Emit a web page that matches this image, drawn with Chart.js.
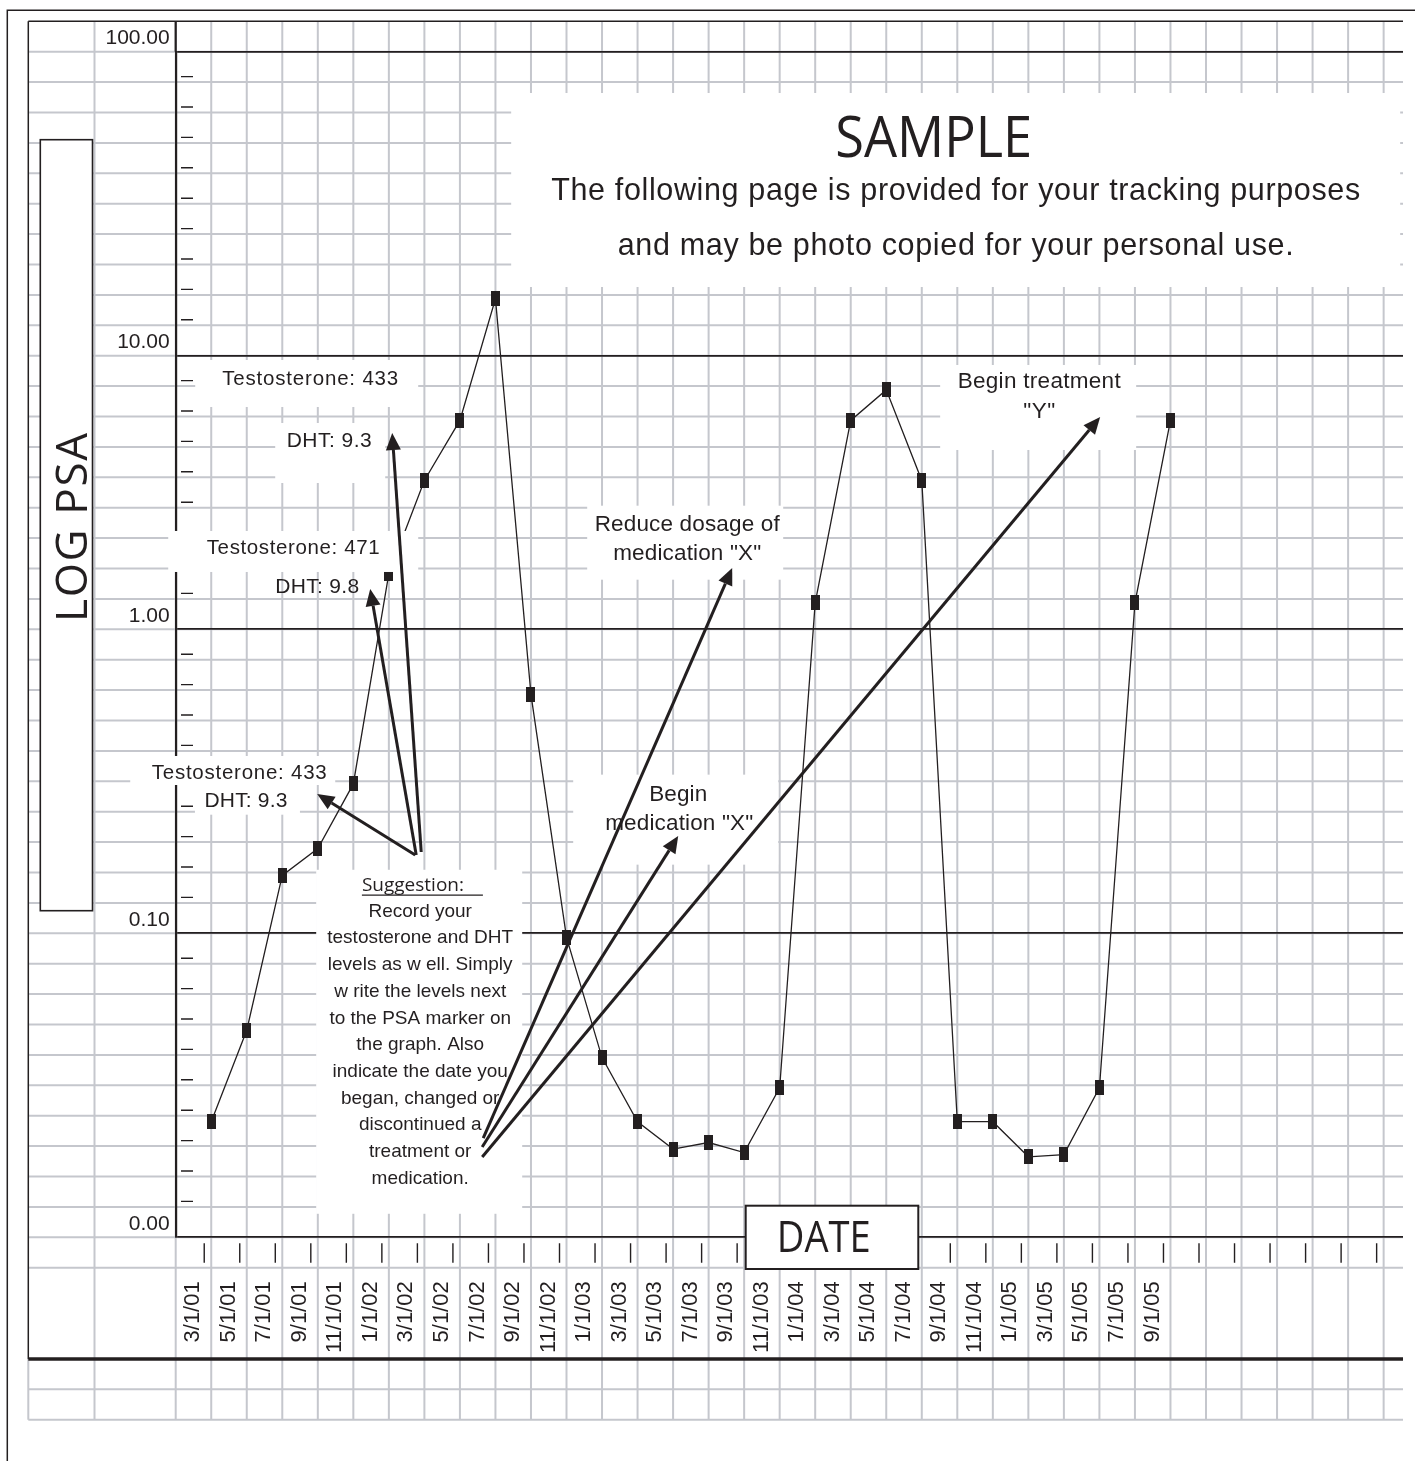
<!DOCTYPE html>
<html>
<head>
<meta charset="utf-8">
<script src="https://cdn.jsdelivr.net/npm/chart.js@4.4.0/dist/chart.umd.min.js"></script>
<style>
  html, body { margin: 0; padding: 0; background: #fff; }
  #wrap { width: 1415px; height: 1461px; position: relative; }
</style>
</head>
<body>
<div id="wrap"><canvas id="psa"></canvas></div>
<script>
// PSA readings, one every two months
const dates = ['3/1/01', '5/1/01', '7/1/01', '9/1/01', '11/1/01', '1/1/02', '3/1/02', '5/1/02', '7/1/02',
  '9/1/02', '11/1/02', '1/1/03', '3/1/03', '5/1/03', '7/1/03', '9/1/03', '11/1/03', '1/1/04', '3/1/04',
  '5/1/04', '7/1/04', '9/1/04', '11/1/04', '1/1/05', '3/1/05', '5/1/05', '7/1/05', '9/1/05'];
const psa = [0.024, 0.048, 0.155, 0.19, 0.31, 1.6, 3.5, 5.8, 15.4, 0.61, 0.097, 0.039, 0.024, 0.0195,
  0.0205, 0.019, 0.031, 1.25, 5.8, 7.5, 3.5, 0.024, 0.024, 0.0184, 0.0187, 0.031, 1.25, 5.8];
const yTickValues = [0.01, 0.1, 1, 10, 100];
const yTickLabels = ['0.00', '0.10', '1.00', '10.00', '100.00'];

const ink = '#231f20';
const paperGray = '#c5c7cd';
const arial = s => s + 'px "Liberation Sans", Arial, sans-serif';
const myriad = s => s + 'px "Open Sans", sans-serif';

// the printed paper puts the decades on uneven rows (counted from the bottom line)
const decadeRows = [0, 10, 20, 29, 39];

const LogScale = Chart.LogarithmicScale || Chart.registry.getScale('logarithmic');
class PaperLogScale extends LogScale {
  getPixelForValue(value) {
    if (value === undefined || value === 0) value = this.min;
    if (value === null || isNaN(value)) return NaN;
    const t = Math.log10(value) - Math.log10(this.min);
    const i = Math.max(0, Math.min(decadeRows.length - 2, Math.floor(t)));
    const r = decadeRows[i] + (t - i) * (decadeRows[i + 1] - decadeRows[i]);
    return this.getPixelForDecimal(r / decadeRows[decadeRows.length - 1]);
  }
  getValueForPixel(pixel) {
    const r = this.getDecimalForPixel(pixel) * decadeRows[decadeRows.length - 1];
    let i = 0;
    while (i < decadeRows.length - 2 && r > decadeRows[i + 1]) i++;
    const t = i + (r - decadeRows[i]) / (decadeRows[i + 1] - decadeRows[i]);
    return this.min * Math.pow(10, t);
  }
}
PaperLogScale.id = 'paperLog';
PaperLogScale.defaults = LogScale.defaults;
Chart.register(PaperLogScale);

// notes: anchor in data units (x = reading index, y = PSA), box edges in px around it
const body = ['Record your', 'testosterone and DHT', 'levels as w ell. Simply', 'w rite the levels next',
  'to the PSA marker on', 'the graph. Also', 'indicate the date you', 'began, changed or',
  'discontinued a', 'treatment or', 'medication.'];
const notes = [
  { x: 20.954, y: 32.52, box: [444.5, 107, 444.5, 87], lines: [
    { t: 'SAMPLE', dx: -22, dy: -42.7, font: myriad(56), fit: 197 },
    { t: 'The following page is provided for your tracking purposes', font: arial(30.5), fit: 809 },
    { t: 'and may be photo copied for your personal use.', dy: 55, font: arial(30.5), fit: 676 }] },
  { x: 2.786, y: 7.816, box: [115, 25, 108, 22], lines: [{ t: 'Testosterone: 433', font: arial(20.5), fit: 176 }] },
  { x: 3.321, y: 4.638, box: [54, 24, 56, 36], lines: [{ t: 'DHT: 9.3', font: arial(21), fit: 85 }] },
  { x: 2.308, y: 1.885, box: [125, 23, 125, 18], lines: [{ t: 'Testosterone: 471', font: arial(20.5), fit: 173 }] },
  { x: 2.983, y: 1.357, lines: [{ t: 'DHT: 9.8', font: arial(21), fit: 84 }] },
  { x: 0.788, y: 0.3218, box: [109, 23, 96, 6], lines: [{ t: 'Testosterone: 433', font: arial(20.5), fit: 175 }] },
  { x: 0.977, y: 0.2609, box: [51, 22, 54, 8], lines: [{ t: 'DHT: 9.3', font: arial(21), fit: 83 }] },
  { x: 13.397, y: 2.293, box: [100, 25, 96, 49], lines: [
    { t: 'Reduce dosage of', font: arial(22.5), fit: 185 },
    { t: 'medication "X"', dy: 29.3, font: arial(22.5), fit: 148 }] },
  { x: 13.144, y: 0.2731, box: [105, 26, 100, 64], lines: [
    { t: 'Begin', font: arial(22.5), fit: 58 },
    { t: 'medication "X"', dx: 1, dy: 29.3, font: arial(22.5), fit: 148 }] },
  { x: 23.304, y: 7.621, box: [99, 23, 97, 62], lines: [
    { t: 'Begin treatment', font: arial(22.5), fit: 163 },
    { t: '"Y"', dy: 30.3, font: arial(22.5), fit: 32 }] },
  { x: 5.882, y: 0.138, box: [104, 21, 102, 323], lines: [
    { t: 'Suggestion:', dx: -58.3, align: 'left', font: myriad(19), underline: 121 }]
    .concat(body.map((t, i) => ({ t, dy: 26 + 26.7 * i, font: arial(19) }))) }
];
const arrows = [
  { from: [5.911, 0.1851], to: [5.094, 5.217] },
  { from: [5.770, 0.1809], to: [4.475, 1.404] },
  { from: [5.742, 0.1809], to: [2.983, 0.2872] },
  { from: [7.656, 0.02121], to: [14.664, 1.675] },
  { from: [7.627, 0.01982], to: [13.144, 0.2090] },
  { from: [7.627, 0.01837], to: [25.021, 5.970] }
];

function fitText(ctx, text, x, y, width) {
  const w = ctx.measureText(text).width;
  ctx.save();
  if (w < width && 'letterSpacing' in ctx) {
    const ls = (width - w) / (text.length - 1);
    ctx.letterSpacing = ls + 'px';
    ctx.fillText(text, x + ls / 2, y);
  } else {
    ctx.translate(x, y);
    ctx.scale(width / w, 1);
    ctx.fillText(text, 0, 0);
  }
  ctx.restore();
}

function drawArrow(ctx, x1, y1, x2, y2) {
  const a = Math.atan2(y2 - y1, x2 - x1), L = 17, W = 7.5;
  const bx = x2 - L * Math.cos(a), by = y2 - L * Math.sin(a);
  ctx.lineWidth = 3;
  ctx.beginPath();
  ctx.moveTo(x1, y1);
  ctx.lineTo(bx, by);
  ctx.stroke();
  ctx.beginPath();
  ctx.moveTo(x2, y2);
  ctx.lineTo(bx + W * Math.sin(a), by - W * Math.cos(a));
  ctx.lineTo(bx - W * Math.sin(a), by + W * Math.cos(a));
  ctx.closePath();
  ctx.fill();
}

// graph paper under the chart
const paperPlugin = {
  id: 'paper',
  beforeDraw(chart) {
    const { ctx, chartArea: a, scales: { x } } = chart;
    const rowH = (a.bottom - a.top) / decadeRows[decadeRows.length - 1];
    const rowY = r => a.top + r * rowH;
    const left = 28.3, right = a.right, top = rowY(-1), bottom = rowY(45);
    const cols = [94.5];
    for (let k = -1; k <= 33; k++) cols.push(x.getPixelForValue(k));

    ctx.save();
    ctx.fillStyle = '#fff';
    ctx.fillRect(0, 0, chart.width, chart.height);

    ctx.strokeStyle = paperGray;
    ctx.lineWidth = 2;
    ctx.beginPath();
    for (let r = 0; r <= 45; r++) {
      if (r === 41 || r === 42) continue;
      ctx.moveTo(left, rowY(r));
      ctx.lineTo(right, rowY(r));
    }
    cols.forEach(px => { ctx.moveTo(px, top); ctx.lineTo(px, bottom); });
    ctx.moveTo(left, rowY(43));
    ctx.lineTo(left, bottom);
    ctx.stroke();

    ctx.strokeStyle = ink;
    ctx.lineWidth = 1.5;
    ctx.beginPath();
    ctx.moveTo(7.3, chart.height);
    ctx.lineTo(7.3, 10.3);
    ctx.lineTo(chart.width, 10.3);
    ctx.moveTo(left, top);
    ctx.lineTo(right, top);
    ctx.moveTo(left, top);
    ctx.lineTo(left, rowY(43));
    ctx.stroke();

    ctx.lineWidth = 2.2;
    ctx.beginPath();
    ctx.moveTo(a.left, top);
    ctx.lineTo(a.left, a.top);
    ctx.stroke();

    ctx.lineWidth = 3.5;
    ctx.beginPath();
    ctx.moveTo(left, rowY(43));
    ctx.lineTo(right, rowY(43));
    ctx.stroke();

    // little dashes on the unlabeled rows and bars under each month column
    const topRows = decadeRows.map(r => decadeRows[decadeRows.length - 1] - r);
    ctx.lineWidth = 1.4;
    ctx.beginPath();
    for (let r = 1; r < 39; r++) {
      if (topRows.includes(r)) continue;
      ctx.moveTo(181, rowY(r) - 5.5);
      ctx.lineTo(193, rowY(r) - 5.5);
    }
    for (let k = 0; k <= 33; k++) {
      const px = x.getPixelForValue(k) - 7;
      ctx.moveTo(px, rowY(39) + 6);
      ctx.lineTo(px, rowY(40) - 5);
    }
    ctx.stroke();
    ctx.restore();
  }
};

const notesPlugin = {
  id: 'notes',
  afterDatasetsDraw(chart) {
    const { ctx, scales: { x, y } } = chart;
    ctx.save();
    ctx.fillStyle = ink;
    ctx.strokeStyle = ink;
    ctx.textBaseline = 'alphabetic';
    notes.forEach(n => {
      const px = x.getPixelForValue(n.x), py = y.getPixelForValue(n.y);
      if (n.box) {
        ctx.fillStyle = '#fff';
        ctx.fillRect(px - n.box[0], py - n.box[1], n.box[0] + n.box[2], n.box[1] + n.box[3]);
        ctx.fillStyle = ink;
      }
      n.lines.forEach(l => {
        const tx = px + (l.dx || 0), ty = py + (l.dy || 0);
        ctx.font = l.font;
        ctx.textAlign = l.align || 'center';
        if (l.fit) fitText(ctx, l.t, tx, ty, l.fit);
        else ctx.fillText(l.t, tx, ty);
        if (l.underline) {
          ctx.lineWidth = 1.3;
          ctx.beginPath();
          ctx.moveTo(tx, ty + 4.3);
          ctx.lineTo(tx + l.underline, ty + 4.3);
          ctx.stroke();
        }
      });
    });
    arrows.forEach(ar => {
      drawArrow(ctx, x.getPixelForValue(ar.from[0]), y.getPixelForValue(ar.from[1]),
        x.getPixelForValue(ar.to[0]), y.getPixelForValue(ar.to[1]));
    });

    // axis titles in their boxes
    ctx.lineWidth = 1.6;
    ctx.fillStyle = '#fff';
    ctx.fillRect(40.3, 139.7, 52.2, 771);
    ctx.strokeRect(40.3, 139.7, 52.2, 771);
    ctx.fillRect(745.7, 1205.7, 172.6, 63.3);
    ctx.lineWidth = 2;
    ctx.strokeRect(745.7, 1205.7, 172.6, 63.3);
    ctx.fillStyle = ink;
    ctx.textAlign = 'center';
    ctx.font = myriad(43);
    fitText(ctx, 'DATE', 823.7, 1251.7, 94);
    ctx.translate(87, 527.5);
    ctx.rotate(-Math.PI / 2);
    ctx.font = myriad(44);
    fitText(ctx, 'LOG PSA', 0, 0, 189);
    ctx.restore();
  }
};

const marker = document.createElement('canvas');
marker.width = 9;
marker.height = 15;
const mctx = marker.getContext('2d');
mctx.fillStyle = ink;
mctx.fillRect(0, 0, 9, 15);

const family = '"Liberation Sans", Arial, sans-serif';

new Chart(document.getElementById('psa'), {
  type: 'line',
  data: {
    datasets: [{
      data: psa.map((v, i) => ({ x: i, y: v })),
      borderColor: ink,
      borderWidth: 1.3,
      pointStyle: marker,
      pointRadius: 5,
      tension: 0,
      fill: false
    }]
  },
  options: {
    responsive: true,
    maintainAspectRatio: false,
    animation: false,
    devicePixelRatio: 1,
    events: [],
    layout: { padding: { left: 0, top: 51.7, right: 12, bottom: 0 } },
    plugins: { legend: { display: false }, tooltip: { enabled: false } },
    scales: {
      x: {
        type: 'linear',
        min: -1,
        max: 33.545,
        afterFit: s => { s.height = 223.7; },
        afterBuildTicks: s => { s.ticks = dates.map((d, i) => ({ value: i })); },
        grid: { display: false, drawTicks: false },
        border: { display: false },
        ticks: {
          autoSkip: false,
          minRotation: 90,
          maxRotation: 90,
          padding: 44,
          labelOffset: -18,
          color: ink,
          font: { family, size: 22 },
          callback: v => dates[v]
        }
      },
      y: {
        type: 'paperLog',
        min: 0.01,
        max: 100,
        afterFit: s => { s.width = 175.7; },
        afterBuildTicks: s => { s.ticks = yTickValues.map(v => ({ value: v })); },
        grid: { color: ink, lineWidth: 1.8, drawTicks: false },
        border: { color: ink, width: 2.2 },
        ticks: {
          padding: 6,
          labelOffset: -13,
          color: ink,
          font: { family, size: 21 },
          callback: (v, i) => yTickLabels[i]
        }
      }
    }
  },
  plugins: [paperPlugin, notesPlugin]
});
</script>
</body>
</html>
